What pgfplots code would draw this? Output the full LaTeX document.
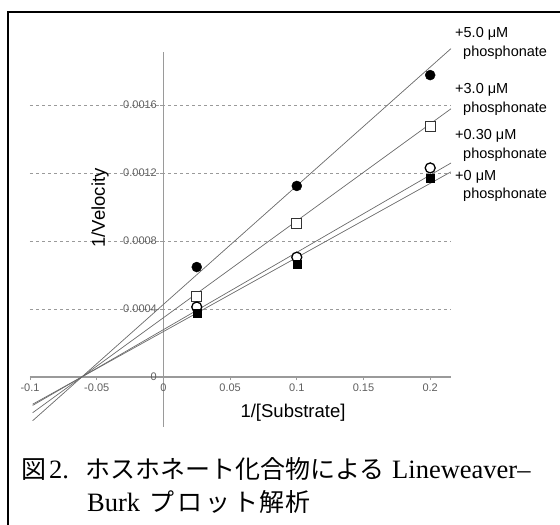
\documentclass[border=0pt]{standalone}
\usepackage{fontspec}
\setmainfont{Liberation Sans}
\newfontfamily\serif{Liberation Serif}
\newfontfamily\cjk{Noto Sans CJK JP}
\usepackage{pgfplots}
\pgfplotsset{compat=1.18}
\definecolor{axgray}{HTML}{9A9A9A}
\definecolor{lngray}{HTML}{6A6A6A}
\definecolor{lblgray}{HTML}{5E5E5E}
\begin{document}
\begin{tikzpicture}
\useasboundingbox (0pt,0pt) rectangle (560pt,525pt);
\draw[line width=2pt] (8pt,-2pt) -- (8pt,513pt) -- (562pt,513pt);
\begin{axis}[
  at={(30pt,98pt)}, anchor=south west,
  scale only axis, width=421pt, height=375pt,
  xmin=-0.1, xmax=0.2156, ymin=-0.000294, ymax=0.001912,
  axis lines=middle,
  axis line style={axgray, line width=1.4pt, -},
  hide obscured x ticks=false, hide obscured y ticks=false,
  scaled y ticks=false, scaled x ticks=false,
  xtick={-0.1,-0.05,0,0.05,0.1,0.15,0.2},
  xticklabels={-0.1,-0.05,0,0.05,0.1,0.15,0.2},
  ytick={0,0.0004,0.0008,0.0012,0.0016},
  yticklabels={0,0.0004,0.0008,0.0012,0.0016},
  ymajorgrids, grid style={axgray, dashed, line width=0.6pt},
  tick align=outside, major tick length=3pt,
  tick style={axgray, line width=0.8pt},
  tick label style={font=\fontsize{11}{13}\selectfont, text=lblgray},
  clip=false,
]
\addplot[lngray, line width=0.7pt] coordinates {(-0.098,-0.000257) (0.2156,0.001932)};
\addplot[lngray, line width=0.7pt] coordinates {(-0.098,-0.000210) (0.2156,0.001578)};
\addplot[lngray, line width=0.7pt] coordinates {(-0.098,-0.000167) (0.2156,0.001259)};
\addplot[lngray, line width=0.7pt] coordinates {(-0.098,-0.000160) (0.2156,0.001207)};
% +3.0 open square
\addplot[only marks, mark=square*, mark size=5pt, mark options={draw=black!80, fill=white, line width=1.2pt}]
  coordinates {(0.025,0.000476) (0.1,0.000904) (0.2,0.001476)};
% +0.30 open circle
\addplot[only marks, mark=*, mark size=5pt, mark options={draw=black, fill=white, line width=1.3pt}]
  coordinates {(0.025,0.000412) (0.1,0.000705) (0.2,0.001230)};
% +0 filled square
\addplot[only marks, mark=square*, mark size=4pt, mark options={draw=black, fill=black}]
  coordinates {(0.025,0.000376) (0.1,0.000665) (0.2,0.001170)};
% +5.0 filled circle
\addplot[only marks, mark=*, mark size=5pt, mark options={draw=black, fill=black}]
  coordinates {(0.025,0.000647) (0.1,0.001124) (0.2,0.001776)};
\end{axis}
\node[rotate=90, font=\fontsize{18.5}{20}\selectfont] at (100pt,317pt) {1/Velocity};
\node[font=\fontsize{18.5}{20}\selectfont] at (293pt,112pt) {1/[Substrate]};
\begin{scope}[every node/.style={anchor=base west, inner sep=0pt, font=\fontsize{14.5}{16}\selectfont}]
\node at (455pt,487pt) {+5.0 μM};
\node at (463pt,468pt) {phosphonate};
\node at (455pt,431pt) {+3.0 μM};
\node at (463pt,412pt) {phosphonate};
\node at (455pt,385pt) {+0.30 μM};
\node at (463pt,366pt) {phosphonate};
\node at (455pt,344pt) {+0 μM};
\node at (463pt,326pt) {phosphonate};
\end{scope}
\begin{scope}[every node/.style={anchor=base west, inner sep=0pt}]
\node[font=\fontsize{25}{30}\selectfont] at (21pt,46pt) {{\cjk 図}};
\node[font=\fontsize{26.5}{30}\selectfont] at (49pt,46pt) {{\serif 2.}};
\node[font=\fontsize{25}{30}\selectfont] at (85pt,46pt) {{\cjk ホスホネート化合物による}};
\node[font=\fontsize{26.5}{30}\selectfont] at (392pt,46pt) {{\serif Lineweaver–}};
\node[font=\fontsize{26.5}{30}\selectfont] at (87pt,13pt) {{\serif Burk}};
\node[font=\fontsize{25}{30}\selectfont] at (149pt,13pt) {{\cjk プ\hspace{3pt}ロ\hspace{3pt}ッ\hspace{3pt}ト\hspace{1pt}解\hspace{1pt}析}};
\end{scope}
\end{tikzpicture}
\end{document}
